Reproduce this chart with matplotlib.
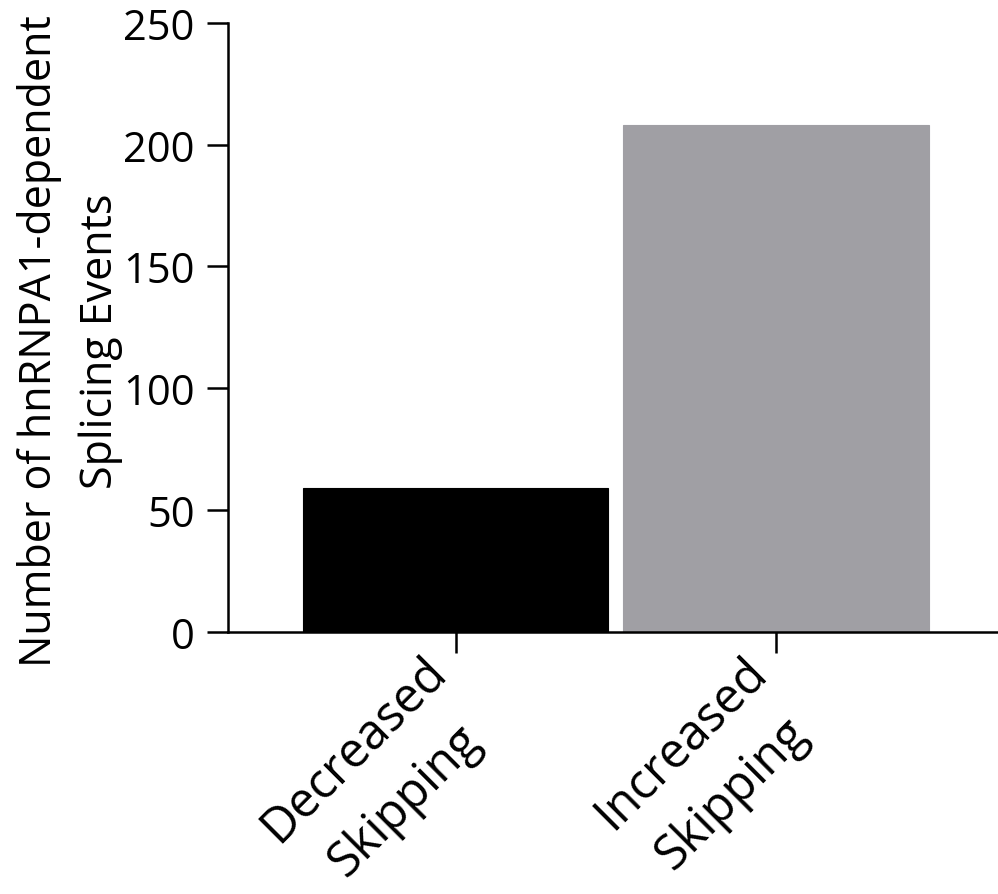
import matplotlib
matplotlib.use("Agg")
import matplotlib.pyplot as plt
from matplotlib.transforms import ScaledTranslation

categories = ["Decreased\nSkipping", "Increased\nSkipping"]
values = [59, 208]
colors = ["#000000", "#A09FA4"]
yticks = [0, 50, 100, 150, 200, 250]
ylabel = "Number of hnRNPA1-dependent\nSplicing Events"

plt.rcParams['font.family'] = ['Open Sans', 'DejaVu Sans']

fig = plt.figure(figsize=(9.98, 8.95), dpi=100)
ax = fig.add_axes([228/998, (895-632.7)/895, 1 - 228/998, (632.7-24)/895])

x = list(range(len(categories)))
ax.bar(x, values, width=0.955, color=colors, edgecolor=colors, linewidth=0.8, zorder=1)

ax.set_xlim(-0.7105, 1.694)
ax.set_ylim(0, 250)
ax.set_yticks(yticks)
ax.set_yticklabels([str(v) for v in yticks])
ax.set_xticks(x)

for s in ['top', 'right']:
    ax.spines[s].set_visible(False)
for s in ['left', 'bottom']:
    ax.spines[s].set_linewidth(1.8)
    ax.spines[s].set_zorder(3)

ax.tick_params(axis='both', direction='out', length=15, width=1.8, pad=9)
ax.tick_params(axis='y', labelsize=30)
ax.tick_params(axis='x', pad=-4)

ax.set_xticklabels(categories, rotation=45, ha='right', va='top',
                   rotation_mode='anchor', multialignment='center',
                   fontsize=35, linespacing=1.6)
shift = ScaledTranslation(-0.34, 0.0, fig.dpi_scale_trans)
for lbl in ax.get_xticklabels():
    lbl.set_transform(lbl.get_transform() + shift)

ax.set_ylabel(ylabel, fontsize=31, linespacing=1.49)
ax.yaxis.set_label_coords(-0.1364, 0.479)

fig.savefig("out.png", dpi=100)
